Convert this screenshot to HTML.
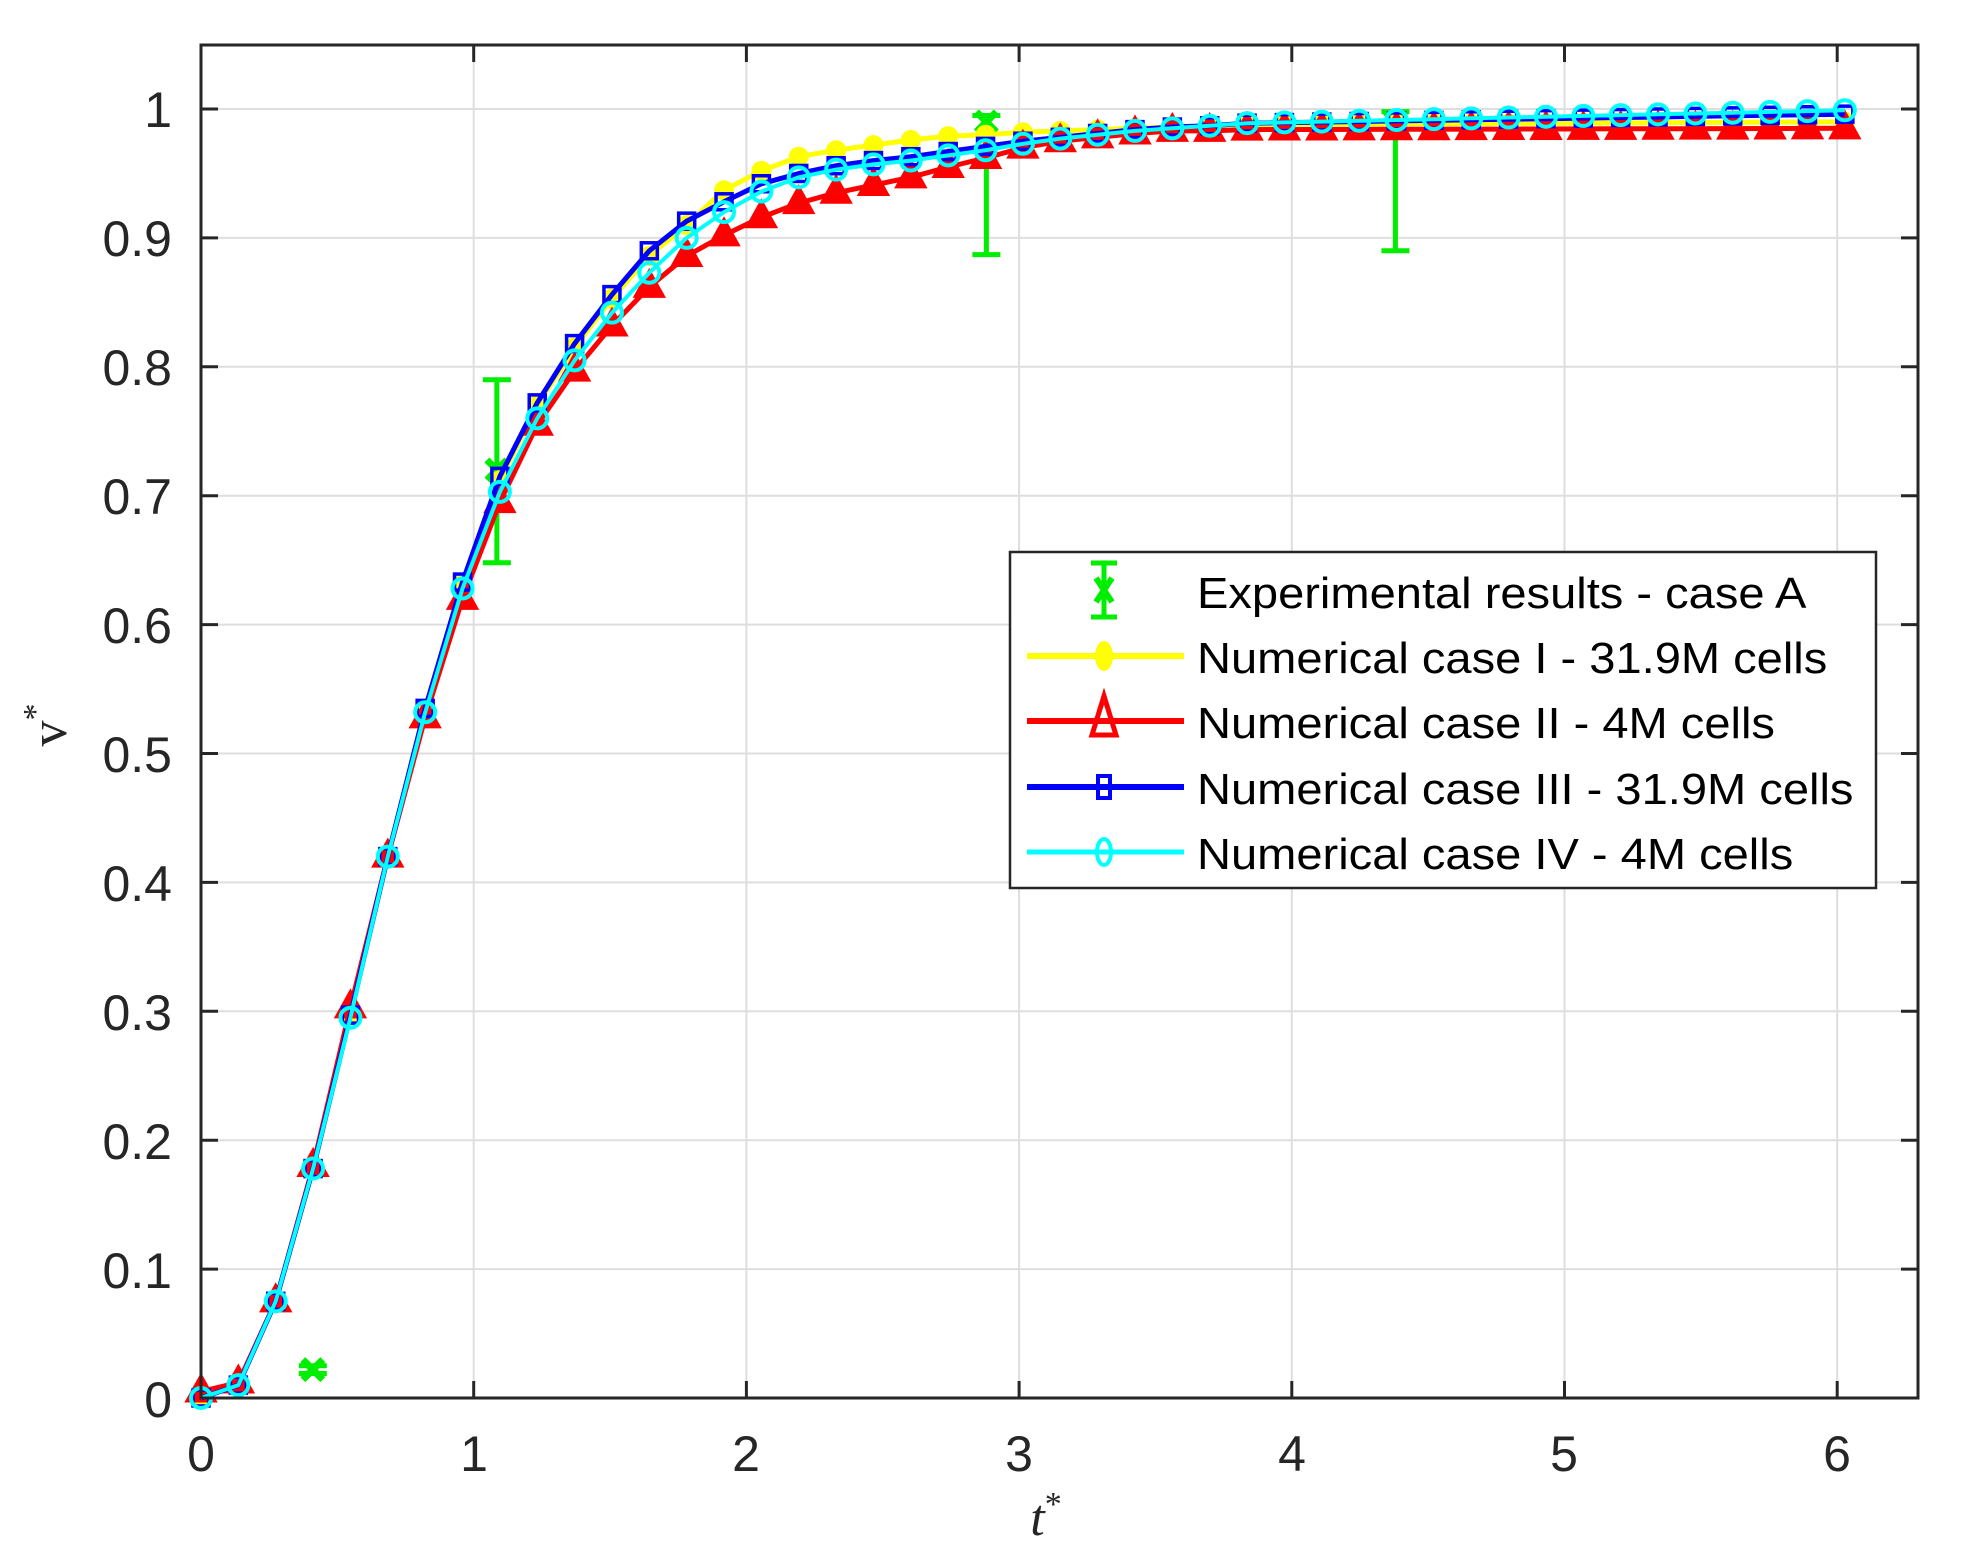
<!DOCTYPE html>
<html><head><meta charset="utf-8"><style>
html,body{margin:0;padding:0;background:#fff;}
svg{display:block;}
</style></head><body>
<svg id="s" width="1975" height="1566" xmlns="http://www.w3.org/2000/svg" font-family="Liberation Sans, sans-serif">
<rect width="1975" height="1566" fill="#fff"/>
<g id="grid" stroke="#dedede" stroke-width="2"></g>
<g id="data"></g>
<rect x="201" y="45" width="1717" height="1353" fill="none" stroke="#262626" stroke-width="3"/>
<g id="ticks" stroke="#262626" stroke-width="3"></g>
<g font-size="50" fill="#262626" text-anchor="end">
<text x="172" y="127">1</text>
<text x="172" y="256">0.9</text>
<text x="172" y="385">0.8</text>
<text x="172" y="514">0.7</text>
<text x="172" y="643">0.6</text>
<text x="172" y="772">0.5</text>
<text x="172" y="901">0.4</text>
<text x="172" y="1030">0.3</text>
<text x="172" y="1159">0.2</text>
<text x="172" y="1288">0.1</text>
<text x="172" y="1417">0</text>
</g>
<g font-size="50" fill="#262626" text-anchor="middle">
<text x="201" y="1471">0</text>
<text x="474" y="1471">1</text>
<text x="746" y="1471">2</text>
<text x="1019" y="1471">3</text>
<text x="1292" y="1471">4</text>
<text x="1564" y="1471">5</text>
<text x="1837" y="1471">6</text>
</g>
<text x="1046" y="1535" font-family="Liberation Serif, serif" font-style="italic" font-size="52" fill="#262626" text-anchor="middle">t<tspan font-size="34" dy="-20" font-style="normal">*</tspan></text>
<text transform="translate(66,725) rotate(-90)" font-family="Liberation Serif, serif" font-size="52" fill="#262626" text-anchor="middle">v<tspan font-size="34" dy="-20">*</tspan></text>
<g id="legend">
<rect x="1010" y="552" width="866" height="336" fill="#fff" stroke="#262626" stroke-width="2.5"/>
<g font-size="44" fill="#000" transform="translate(1197,0) scale(1.07,1)">
<text x="0" y="608">Experimental results - case A</text>
<text x="0" y="673">Numerical case I - 31.9M cells</text>
<text x="0" y="738">Numerical case II - 4M cells</text>
<text x="0" y="804">Numerical case III - 31.9M cells</text>
<text x="0" y="869">Numerical case IV - 4M cells</text>
</g>
</g>
</svg>
<script>
var NS="http://www.w3.org/2000/svg";
function X(t){return 201+t*272.7;}
function Y(v){return 1398-v*1289;}
function el(parent,tag,attrs){var e=document.createElementNS(NS,tag);for(var k in attrs)e.setAttribute(k,attrs[k]);parent.appendChild(e);return e;}
var grid=document.getElementById('grid'),ticks=document.getElementById('ticks'),data=document.getElementById('data'),leg=document.getElementById('legend');
for(var i=1;i<=6;i++){var x=X(i);el(grid,'line',{x1:x,y1:45,x2:x,y2:1398});el(ticks,'line',{x1:x,y1:1398,x2:x,y2:1381});el(ticks,'line',{x1:x,y1:45,x2:x,y2:62});}
for(var j=1;j<=10;j++){var y=Y(j/10);el(grid,'line',{x1:201,y1:y,x2:1918,y2:y});el(ticks,'line',{x1:201,y1:y,x2:218,y2:y});el(ticks,'line',{x1:1918,y1:y,x2:1901,y2:y});}
var dt=0.137;
var cyan=[0,0.01,0.075,0.178,0.295,0.42,0.532,0.628,0.703,0.76,0.805,0.842,0.873,0.9,0.92,0.936,0.947,0.953,0.957,0.96,0.964,0.968,0.973,0.977,0.98,0.983,0.985,0.987,0.989];
var blue=[0,0.01,0.075,0.178,0.297,0.42,0.535,0.633,0.715,0.772,0.818,0.856,0.89,0.913,0.928,0.942,0.95,0.956,0.96,0.963,0.967,0.971,0.975,0.978,0.981,0.984,0.986,0.987,0.989];
var red=[0.005,0.012,0.075,0.18,0.303,0.42,0.528,0.62,0.695,0.755,0.797,0.832,0.862,0.886,0.902,0.916,0.927,0.935,0.941,0.947,0.955,0.962,0.97,0.975,0.978,0.981,0.983,0.983,0.984];
var yel=[0,0.01,0.075,0.178,0.297,0.42,0.535,0.633,0.712,0.77,0.815,0.853,0.886,0.91,0.937,0.952,0.963,0.968,0.972,0.976,0.979,0.98,0.982,0.983,0.984,0.985,0.986,0.987,0.988];
function ext(a,end){var n=a.length,last=a[n-1];while(a.length<45){var k=a.length;a.push(last+(end-last)*(k-n+1)/(45-n));}return a;}
ext(cyan,0.999);ext(blue,0.996);ext(red,0.985);ext(yel,0.99);
// experimental (drawn below series)
var exp=[[0.41,0.022,0.019,0.025],[1.085,0.72,0.648,0.79],[2.88,0.99,0.887,0.995],[4.38,0.99,0.89,0.998]];
exp.forEach(function(e){var x=X(e[0]),y=Y(e[1]);var g='#00ee00';
 el(data,'line',{x1:x,y1:Y(e[2]),x2:x,y2:Y(e[3]),stroke:g,'stroke-width':5});
 el(data,'line',{x1:x-14,y1:Y(e[2]),x2:x+14,y2:Y(e[2]),stroke:g,'stroke-width':5});
 el(data,'line',{x1:x-14,y1:Y(e[3]),x2:x+14,y2:Y(e[3]),stroke:g,'stroke-width':5});
 el(data,'path',{d:'M'+(x-10)+','+(y-10)+'L'+(x+10)+','+(y+10)+'M'+(x+10)+','+(y-10)+'L'+(x-10)+','+(y+10),stroke:g,'stroke-width':7});
});
function series(vals,color,lw,marker){
 var pts=vals.map(function(v,i){return X(i*dt).toFixed(1)+','+Y(v).toFixed(1);}).join(' ');
 el(data,'polyline',{points:pts,fill:'none',stroke:color,'stroke-width':lw,'stroke-linejoin':'round'});
 vals.forEach(function(v,i){marker(data,X(i*dt),Y(v));});
}
function mCircleFill(c){return function(p,x,y){el(p,'circle',{cx:x,cy:y,r:10,fill:c});};}
function mTri(c){return function(p,x,y){el(p,'polygon',{points:(x)+','+(y-17)+' '+(x-15)+','+(y+10)+' '+(x+15)+','+(y+10),fill:c,stroke:c,'stroke-width':2});};}
function mSq(c){return function(p,x,y){el(p,'rect',{x:x-8,y:y-8,width:16,height:16,fill:'none',stroke:c,'stroke-width':3.5});};}
function mCirc(c){return function(p,x,y){el(p,'circle',{cx:x,cy:y,r:10,fill:'none',stroke:c,'stroke-width':4});};}
series(yel,'#ffff00',5,mCircleFill('#ffff00'));
series(red,'#ff0000',5,mTri('#ff0000'));
series(blue,'#0000ff',5,mSq('#0000ff'));
series(cyan,'#00ffff',4,mCirc('#00ffff'));
// legend samples
var lx1=1027,lx2=1184,mx=1104;
var ey=590;
el(leg,'line',{x1:mx,y1:ey-27,x2:mx,y2:ey+27,stroke:'#00ee00','stroke-width':5});
el(leg,'line',{x1:mx-13,y1:ey-27,x2:mx+13,y2:ey-27,stroke:'#00ee00','stroke-width':5});
el(leg,'line',{x1:mx-13,y1:ey+27,x2:mx+13,y2:ey+27,stroke:'#00ee00','stroke-width':5});
el(leg,'path',{d:'M'+(mx-8)+','+(ey-12)+'L'+(mx+8)+','+(ey+12)+'M'+(mx+8)+','+(ey-12)+'L'+(mx-8)+','+(ey+12),stroke:'#00ee00','stroke-width':6});
var rows=[[656,'#ffff00',6,function(p,x,y){el(p,'ellipse',{cx:x,cy:y,rx:9,ry:15,fill:'#ffff00'});}],
[721,'#ff0000',6,function(p,x,y){el(p,'polygon',{points:x+','+(y-25)+' '+(x-12)+','+(y+14)+' '+(x+12)+','+(y+14),fill:'none',stroke:'#ff0000','stroke-width':5});}],
[787,'#0000ff',6,function(p,x,y){el(p,'rect',{x:x-6,y:y-11,width:12,height:22,fill:'none',stroke:'#0000ff','stroke-width':4});}],
[852,'#00ffff',5,function(p,x,y){el(p,'ellipse',{cx:x,cy:y,rx:7,ry:13,fill:'none',stroke:'#00ffff','stroke-width':4});}]];
rows.forEach(function(r){el(leg,'line',{x1:lx1,y1:r[0],x2:lx2,y2:r[0],stroke:r[1],'stroke-width':r[2]});r[3](leg,mx,r[0]);});
</script>
</body></html>
